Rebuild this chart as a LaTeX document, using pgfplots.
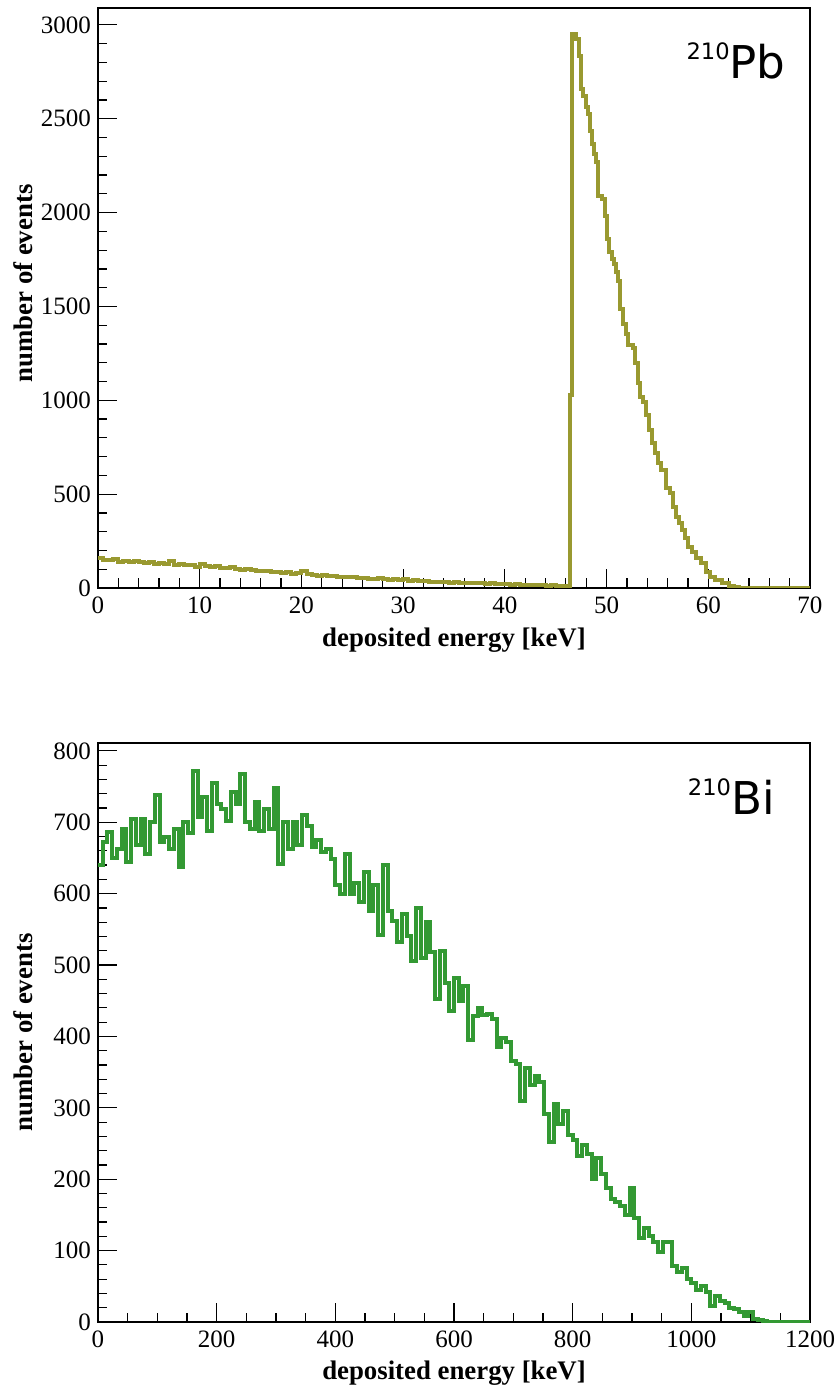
\documentclass[border=0pt]{standalone}
\usepackage{pgfplots}
\pgfplotsset{compat=1.18}
\usepackage{fontspec}
\setmainfont{Liberation Serif}
\newfontfamily\isofont{DejaVu Sans}
\definecolor{pbcol}{RGB}{153,153,48}
\definecolor{bicol}{RGB}{51,153,51}
\pgfplotsset{
  rootstyle/.style={
    scale only axis, width=356pt,
    axis line style={line width=0.9pt},
    tick align=inside, tick pos=left,
    major tick length=9.5pt, minor tick length=4.75pt,
    every tick/.style={black, line width=0.6pt},
    /pgf/number format/assume math mode=true,
    /pgf/number format/1000 sep={},
    tick label style={font=\fontsize{12.5}{14}\selectfont},
    xticklabel style={yshift=-1pt},
    label style={font=\bfseries\fontsize{13.4}{15}\selectfont},
    xlabel style={at={(axis description cs:0.5,-0.1)}, anchor=base},
    clip=true,
  }
}
\begin{document}
\begin{tikzpicture}
\useasboundingbox (-49pt,-404pt) rectangle (369.5pt,294pt);
\begin{axis}[rootstyle, at={(0pt,0pt)}, anchor=south west,
  height=290pt, xmin=0, xmax=70, ymin=0, ymax=3090,
  xtick={0,10,...,70}, minor x tick num=4,
  ytick={0,500,...,3000}, minor y tick num=4,
  xlabel={deposited energy [keV]}, ylabel={number of events},
  ylabel style={at={(axis description cs:-0.0913,0.525)}, anchor=base}]
\addplot[const plot, draw=pbcol, line width=2pt, line join=miter] coordinates {
(0,158)(0.5,150)(1,148)(1.5,152)(2,140)(2.5,145)(3,138)(3.5,146)(4,140)(4.5,132)(5,138)(5.5,128)(6,134)(6.5,126)(7,145)(7.5,124)(8,128)(8.5,120)(9,125)(9.5,114)(10,128)(10.5,118)(11,112)(11.5,116)(12,108)(12.5,104)(13,110)(13.5,102)(14,98)(14.5,100)(15,95)(15.5,92)(16,88)(16.5,90)(17,84)(17.5,86)(18,80)(18.5,84)(19,76)(19.5,78)(20,88)(20.5,72)(21,70)(21.5,66)(22,68)(22.5,62)(23,64)(23.5,58)(24,60)(24.5,56)(25,58)(25.5,52)(26,54)(26.5,50)(27,48)(27.5,52)(28,46)(28.5,44)(29,48)(29.5,40)(30,46)(30.5,38)(31,40)(31.5,36)(32,38)(32.5,32)(33,34)(33.5,30)(34,33)(34.5,28)(35,34)(35.5,26)(36,28)(36.5,25)(37,24)(37.5,26)(38,22)(38.5,24)(39,20)(39.5,22)(40,20)(40.5,18)(41,20)(41.5,16)(42,18)(42.5,15)(43,14)(43.5,16)(44,12)(44.5,14)(45,12)(45.5,13)(46,10)
(46.4,1030)(46.6,2950)(47.0,2925)(47.3,2835)(47.5,2660)(47.7,2620)(48.0,2560)(48.2,2525)(48.4,2435)(48.6,2365)(48.8,2312)(49.0,2269)(49.2,2088)(49.6,2071)(49.8,1981)(50.0,1858)(50.2,1790)(50.5,1751)(50.7,1724)(50.9,1682)(51.1,1634)(51.3,1484)(51.6,1404)(51.9,1351)(52.1,1297)(52.6,1280)(52.8,1201)(53.1,1094)(53.3,1020)(53.6,993)(53.9,924)(54.2,844)(54.5,774)(54.8,721)(55.1,667)(55.4,630)(55.8,534)(56.2,507)(56.5,432)(56.8,379)(57.1,347)(57.4,310)(57.7,267)(58.0,219)(58.4,192)(58.8,160)(59.3,133)(59.8,85)(60.2,59)(60.7,43)(61.3,27)(62.0,12)(62.5,4)(63.0,0)(70,0)
};
\node[anchor=base west, inner sep=0pt, font=\isofont\fontsize{22.6}{24}\selectfont] at (axis description cs:0.826,0.879) {\raisebox{0.42em}{\fontsize{11.3}{12}\selectfont 210}Pb};
\end{axis}
\begin{axis}[rootstyle, at={(0pt,-367pt)}, anchor=south west,
  height=289.5pt, xmin=0, xmax=1200, ymin=0, ymax=811,
  xtick={0,200,...,1200}, minor x tick num=3,
  ytick={0,100,...,800}, minor y tick num=4,
  xlabel={deposited energy [keV]}, ylabel={number of events},
  ylabel style={at={(axis description cs:-0.0913,0.5)}, anchor=base}]
\addplot[const plot, draw=bicol, line width=2pt, line join=miter] coordinates {
(0,640)(8,672)(16,686)(24,650)(32,662)(40,690)(48,645)(56,705)(64,668)(72,705)(80,655)(88,700)(96,738)(104,672)(112,680)(120,662)(128,690)(136,638)(144,700)(152,685)(160,772)(168,708)(176,735)(184,688)(192,755)(200,725)(208,718)(216,702)(224,742)(232,725)(240,768)(248,700)(256,690)(264,728)(272,688)(280,718)(288,690)(296,748)(304,642)(312,700)(320,662)(328,700)(336,668)(344,710)(352,695)(360,665)(368,675)(376,658)(384,662)(392,648)(400,612)(408,600)(416,655)(424,600)(432,615)(440,588)(448,630)(456,575)(464,612)(472,542)(480,640)(488,575)(496,562)(504,532)(512,572)(520,540)(528,505)(536,580)(544,510)(552,560)(560,518)(568,452)(576,520)(584,475)(592,435)(600,482)(608,450)(616,470)(624,395)(632,428)(640,440)(648,430)(656,432)(664,425)(672,385)(680,398)(688,392)(696,366)(704,362)(712,310)(720,356)(728,332)(736,345)(744,336)(752,292)(760,252)(768,305)(776,278)(784,296)(792,262)(800,255)(808,232)(816,248)(824,236)(832,200)(840,230)(848,208)(856,188)(864,172)(872,168)(880,162)(888,150)(896,188)(904,145)(912,118)(920,132)(928,120)(936,112)(944,98)(952,112)(960,112)(968,78)(976,70)(984,76)(992,60)(1000,55)(1008,45)(1016,50)(1024,42)(1032,22)(1040,36)(1048,30)(1056,27)(1064,20)(1072,18)(1080,14)(1088,8)(1096,14)(1104,4)(1112,3)(1120,2)(1128,0)(1200,0)
};
\node[anchor=base west, inner sep=0pt, font=\isofont\fontsize{22.6}{24}\selectfont] at (axis description cs:0.828,0.877) {\raisebox{0.42em}{\fontsize{11.3}{12}\selectfont 210}Bi};
\end{axis}
\end{tikzpicture}
\end{document}
